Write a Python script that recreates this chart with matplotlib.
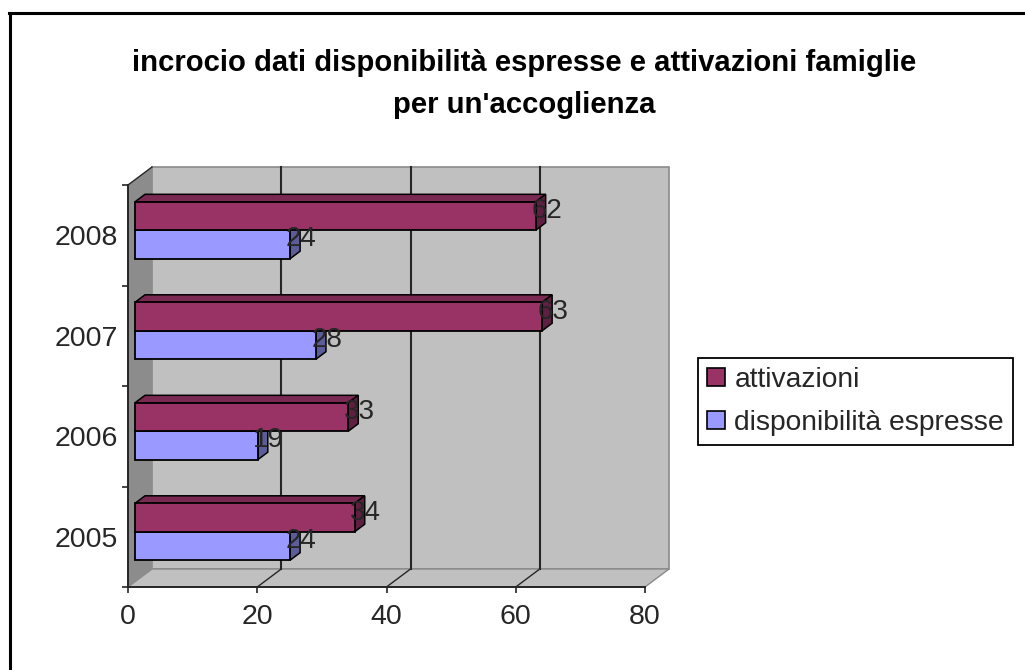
import matplotlib
matplotlib.use("Agg")
import matplotlib.pyplot as plt
from matplotlib.patches import Patch, Polygon, Rectangle
from matplotlib.lines import Line2D
from matplotlib.transforms import Affine2D

years = ["2005", "2006", "2007", "2008"]
attivazioni = [34, 33, 63, 62]
disponibilita = [24, 19, 28, 24]
x_ticks = [0, 20, 40, 60, 80]
title = "incrocio dati disponibilità espresse e attivazioni famiglie\nper un'accoglienza"
series_names = ["attivazioni", "disponibilità espresse"]

RED, RED_TOP, RED_SIDE = "#993366", "#7a2952", "#5e1f40"
BLUE, BLUE_SIDE = "#9999ff", "#5c5c99"
WALL, SIDE_WALL, WALL_EDGE = "#c0c0c0", "#8c8c8c", "#8a8a8a"
INK = "#262626"

plt.rcParams["font.family"] = ["Liberation Sans", "DejaVu Sans"]

W, H = 1025, 670
fig = plt.figure(figsize=(W / 100, H / 100), dpi=100)
ax = fig.add_axes([128 / W, (H - 587) / H, 517 / W, 402 / H])
ax.set_xlim(0, 80)
ax.set_ylim(0, 4)
ax.patch.set_visible(False)

px_x = 517 / 80
px_y = 402 / 4


def shift(dx, dy):
    return ax.transData + Affine2D().translate(dx, dy)


# chart walls
wall_dx, wall_dy = 24 / px_x, 18 / px_y
ax.add_patch(Rectangle((0, 0), 80, 4, transform=shift(24, 18), fc=WALL, ec=WALL_EDGE, lw=1.2, clip_on=False, zorder=0))
ax.add_patch(Polygon([(0, 0), (0, 4), (wall_dx, 4 + wall_dy), (wall_dx, wall_dy)], fc=SIDE_WALL, ec="none", clip_on=False, zorder=0))
ax.add_patch(Polygon([(0, 0), (80, 0), (80 + wall_dx, wall_dy), (wall_dx, wall_dy)], fc=WALL, ec=WALL_EDGE, lw=1, clip_on=False, zorder=0))

for v in x_ticks[1:-1]:
    ax.plot([v, v], [0, 4], transform=shift(24, 18), color=INK, lw=1.5, clip_on=False, zorder=1)
    ax.plot([v, v + wall_dx], [0, wall_dy], color=INK, lw=1, clip_on=False, zorder=1)
ax.plot([0, wall_dx], [4, 4 + wall_dy], color=INK, lw=1, clip_on=False, zorder=1)

# bars: front face, top and side, offset into the chart depth
bar_h = 0.283
off = shift(7, 5)
off_x, off_y = 10 / px_x, 7.5 / px_y


def draw_bar(v, y0, front, top, side, z):
    y1 = y0 + bar_h
    ax.add_patch(Polygon([(0, y1), (v, y1), (v + off_x, y1 + off_y), (off_x, y1 + off_y)], transform=off,
                         fc=top, ec="black", lw=1.1, clip_on=False, zorder=z))
    ax.add_patch(Polygon([(v, y0), (v, y1), (v + off_x, y1 + off_y), (v + off_x, y0 + off_y)], transform=off,
                         fc=side, ec="black", lw=1.1, clip_on=False, zorder=z))
    ax.barh(y0, v, height=bar_h, align="edge", transform=off, color=front, edgecolor="black", lw=1.3, clip_on=False, zorder=z + 0.1)


for i in range(len(years)):
    ym = i + 0.5
    draw_bar(disponibilita[i], ym - bar_h, BLUE, BLUE_SIDE, BLUE_SIDE, 3)
    draw_bar(attivazioni[i], ym, RED, RED_TOP, RED_SIDE, 3.5)
    ax.text(attivazioni[i], ym + bar_h / 2, str(attivazioni[i]), transform=shift(18, 10), ha="center", va="center",
            fontsize=20, color=INK, zorder=6)
    ax.text(disponibilita[i], ym - bar_h / 2, str(disponibilita[i]), transform=shift(18, 10), ha="center", va="center",
            fontsize=20, color=INK, zorder=6)

# axes
for s in ["top", "right"]:
    ax.spines[s].set_visible(False)
for s in ["left", "bottom"]:
    ax.spines[s].set_color(INK)
    ax.spines[s].set_linewidth(1.4)
ax.set_xticks(x_ticks)
ax.set_xticklabels([str(v) for v in x_ticks])
ax.set_yticks(range(5))
ax.set_yticklabels([])
ax.set_yticks([i + 0.5 for i in range(4)], labels=years, minor=True)
ax.tick_params(axis="both", which="major", length=4, width=1.2, color=INK, labelsize=20.5, labelcolor=INK)
ax.tick_params(axis="x", pad=8)
ax.tick_params(axis="y", which="minor", length=0, pad=7, labelsize=20.5, labelcolor=INK)

fig.text(524 / W, 1 - 84 / H, title, ha="center", va="center", fontsize=21.1, fontweight="bold", color="black", linespacing=1.65)

# legend
handles = [Patch(fc=RED, ec="black", lw=1.2), Patch(fc=BLUE, ec="black", lw=1.2)]
leg = fig.legend(handles, series_names, loc="center left", bbox_to_anchor=(698 / W, 1 - 401.5 / H), fontsize=20.3,
                 fancybox=False, framealpha=1, edgecolor="black", handlelength=0.64, handleheight=0.64,
                 handletextpad=0.32, labelspacing=0.6, borderpad=0.33, borderaxespad=0, labelcolor=INK)
leg.get_frame().set_linewidth(1.3)

# outer frame: only top and left are inside the picture
fig.add_artist(Line2D([10 / W, 10 / W], [0, 1 - 12.5 / H], color="black", lw=2.2, transform=fig.transFigure))
fig.add_artist(Line2D([9 / W, 1], [1 - 12.5 / H, 1 - 12.5 / H], color="black", lw=2.2, transform=fig.transFigure))

fig.savefig("out.png", dpi=100, facecolor="white")
